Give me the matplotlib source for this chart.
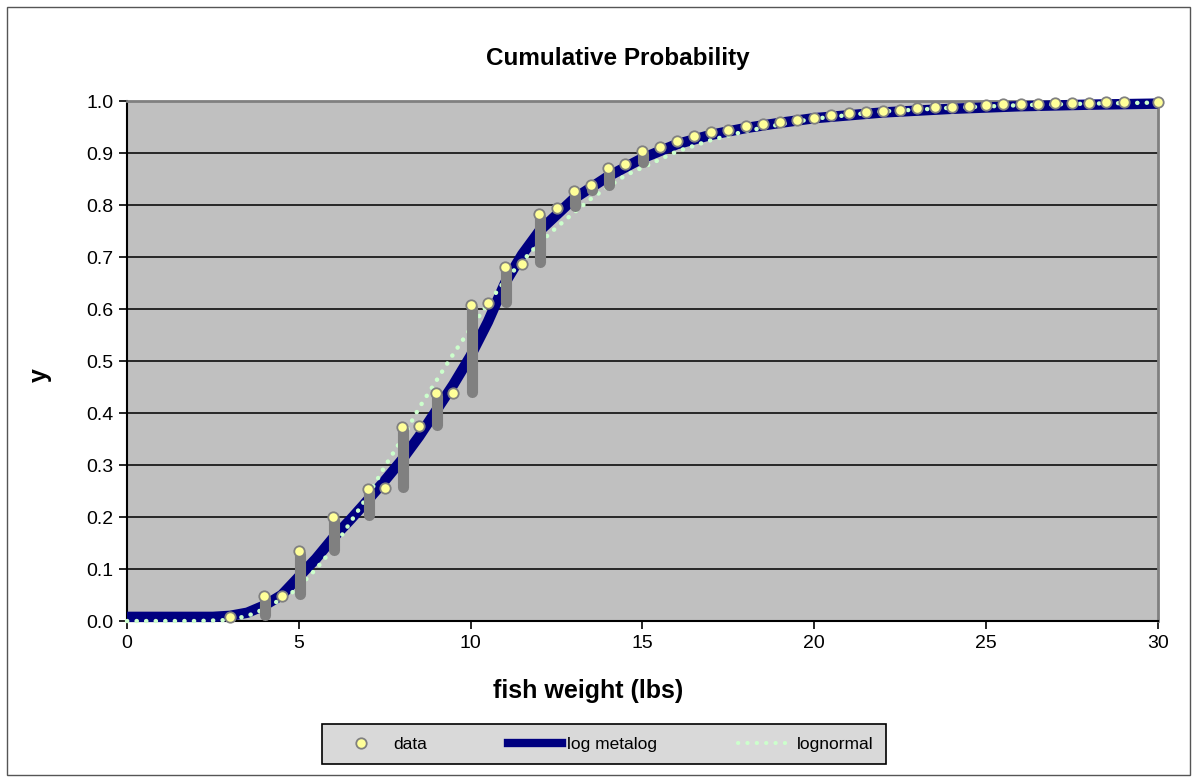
import numpy as np
from matplotlib import pyplot as plt
from matplotlib import transforms
from matplotlib.lines import Line2D
from matplotlib.patches import Rectangle

plt.rcParams['font.family'] = ['Liberation Sans', 'DejaVu Sans']

# empirical data: x, top of the tied group, bottom of the tied group
data_x = [3, 4, 4.5, 5, 6, 7, 7.5, 8, 8.5, 9, 9.5, 10, 10.5, 11, 11.5, 12, 12.5, 13, 13.5,
          14, 14.5, 15, 15.5, 16, 16.5, 17, 17.5, 18, 18.5, 19, 19.5, 20, 20.5, 21, 21.5,
          22, 22.5, 23, 23.5, 24, 24.5, 25, 25.5, 26, 26.5, 27, 27.5, 28, 28.5, 29, 30]
data_top = [0.008, 0.048, 0.049, 0.135, 0.200, 0.254, 0.255, 0.374, 0.375, 0.438, 0.439,
            0.608, 0.612, 0.680, 0.687, 0.783, 0.794, 0.826, 0.838, 0.872, 0.879, 0.904,
            0.912, 0.924, 0.933, 0.940, 0.945, 0.951, 0.956, 0.959, 0.964, 0.968, 0.973,
            0.976, 0.978, 0.981, 0.983, 0.987, 0.988, 0.989, 0.991, 0.992, 0.994, 0.995,
            0.995, 0.996, 0.997, 0.997, 0.998, 0.998, 0.999]
data_low = [0.008, 0.017, 0.049, 0.058, 0.142, 0.210, 0.255, 0.264, 0.375, 0.383, 0.439,
            0.447, 0.612, 0.620, 0.687, 0.697, 0.794, 0.803, 0.835, 0.845, 0.879, 0.889]
data_low = data_low + data_top[len(data_low):]

# log metalog CDF
meta_x = [0, 2.5, 3.0, 3.5, 4.0, 4.5, 5, 5.5, 6, 6.5, 7, 7.5, 8, 8.5, 9, 9.5, 10, 10.5, 11,
          11.5, 12, 13, 14, 15, 16, 17, 18, 19, 20, 22, 24, 26, 28, 30]
meta_y = [0.008, 0.008, 0.010, 0.016, 0.030, 0.050, 0.085, 0.120, 0.160, 0.195, 0.232,
          0.270, 0.310, 0.355, 0.405, 0.455, 0.510, 0.575, 0.650, 0.705, 0.750, 0.812,
          0.855, 0.890, 0.917, 0.935, 0.948, 0.958, 0.967, 0.978, 0.985, 0.990, 0.993, 0.995]

# lognormal CDF
logn_x = [0, 2, 3, 3.25, 3.5, 3.75, 4, 4.25, 4.5, 4.75, 5, 5.25, 5.5, 5.75, 6, 6.5, 7, 7.5,
          8, 8.5, 9, 9.5, 10, 10.5, 11, 11.5, 12, 12.5, 13, 13.5, 14, 14.5, 15, 16, 17, 18,
          19, 20, 22, 24, 26, 28, 30]
logn_y = [0, 0, 0.002, 0.006, 0.010, 0.016, 0.024, 0.034, 0.041, 0.052, 0.065, 0.083,
          0.100, 0.120, 0.140, 0.190, 0.240, 0.297, 0.350, 0.410, 0.462, 0.514, 0.563,
          0.610, 0.655, 0.692, 0.727, 0.757, 0.785, 0.812, 0.835, 0.857, 0.872, 0.903,
          0.925, 0.942, 0.955, 0.966, 0.980, 0.987, 0.992, 0.995, 0.997]

fig = plt.figure(figsize=(11.96, 7.8), dpi=100)
fig.patches.append(Rectangle((0.006, 0.007), 0.989, 0.984, transform=fig.transFigure,
                             fill=False, edgecolor='#555555', linewidth=1))
ax = fig.add_axes([0.1062, 0.2038, 0.862, 0.6667])
ax.set_facecolor('#C0C0C0')

ax.set_xlim(0, 30)
ax.set_ylim(0, 1)
ax.set_xticks(np.arange(0, 31, 5))
ax.set_yticks(np.arange(0, 1.01, 0.1))
ax.set_yticklabels(['%.1f' % v for v in np.arange(0, 1.01, 0.1)])
ax.tick_params(axis='both', labelsize=14, length=6, width=1.2, direction='out', pad=4)
for v in np.arange(0.1, 1.0, 0.1):
    ax.axhline(v, color='#1a1a1a', linewidth=1.3, zorder=1)

ax.spines['left'].set_linewidth(1.5)
ax.spines['bottom'].set_linewidth(1.5)
ax.spines['top'].set_color('#808080')
ax.spines['right'].set_color('#808080')
ax.spines['top'].set_linewidth(2)
ax.spines['right'].set_linewidth(2)

ax.plot(meta_x, meta_y, color='#000080', linewidth=7.5, solid_capstyle='butt', zorder=3,
        clip_on=False)
ax.plot(logn_x, logn_y, color='#CCFFCC', linewidth=3.2, linestyle=(0, (0.05, 2.1)),
        dash_capstyle='round', zorder=4, clip_on=False)

# marker shadows, merged into bars where values are tied
shadow = transforms.offset_copy(ax.transData, fig=fig, x=1, y=-3, units='dots')
for x, top, low in zip(data_x, data_top, data_low):
    ax.plot([x, x], [low, top], color='#808080', linewidth=8, solid_capstyle='round',
            transform=shadow, zorder=5, clip_on=False)
ax.plot(data_x, data_top, linestyle='none', marker='o', markersize=7.5,
        markerfacecolor='#FFFF99', markeredgecolor='#808080', markeredgewidth=1.3,
        zorder=6, clip_on=False)

fig.text(618 / 1196, 1 - 58 / 780, 'Cumulative Probability', fontsize=17.5, fontweight='bold',
         ha='center', va='center')
ax.set_xlabel('fish weight (lbs)', fontsize=18, fontweight='bold')
ax.xaxis.set_label_coords(0.447, -0.112)
ax.set_ylabel('y', fontsize=18, fontweight='bold')
ax.yaxis.set_label_coords(-0.073, 0.473)

handles = [
    Line2D([], [], linestyle='none', marker='o', markersize=7.5, markerfacecolor='#FFFF99',
           markeredgecolor='#808080', markeredgewidth=1.3),
    Line2D([], [], color='#000080', linewidth=6),
    Line2D([], [], color='#CCFFCC', linewidth=3, linestyle=(0, (0.05, 2.2)),
           dash_capstyle='round'),
]
leg = fig.legend(handles, ['data', 'log metalog', 'lognormal'], ncol=3, mode='expand',
                 loc='center', bbox_to_anchor=(0.262, 0.017, 0.486, 0.058), fontsize=12.5,
                 frameon=True, fancybox=False, handlelength=3.1, handletextpad=0.3,
                 borderpad=0.7)
leg.get_frame().set_facecolor('#D9D9D9')
leg.get_frame().set_edgecolor('black')
leg.get_frame().set_linewidth(1.2)
leg.get_frame().set_alpha(1)

plt.savefig('out.png', dpi=100)
